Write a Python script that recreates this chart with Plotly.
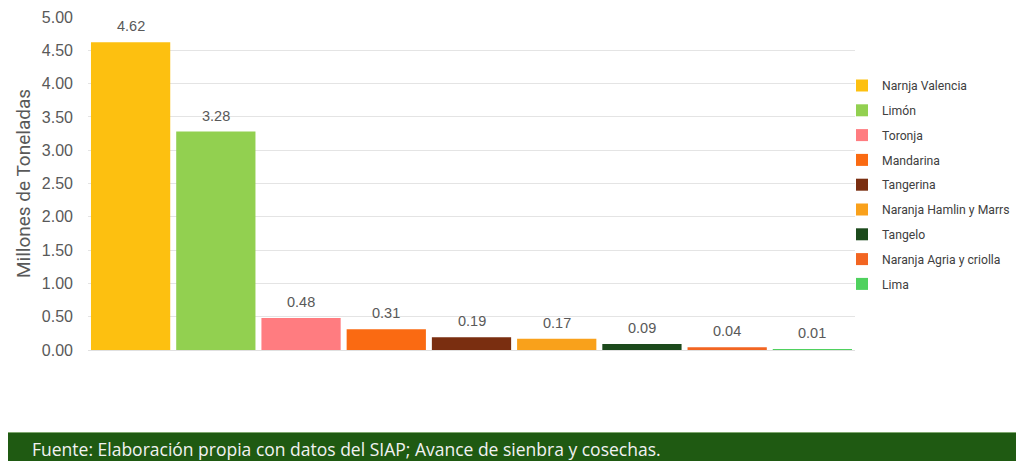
import plotly.graph_objects as go

categories = ["Narnja Valencia", "Limón", "Toronja", "Mandarina", "Tangerina",
              "Naranja Hamlin y Marrs", "Tangelo", "Naranja Agria y criolla", "Lima"]
values = [4.62, 3.28, 0.48, 0.31, 0.19, 0.17, 0.09, 0.04, 0.01]
colors = ["#FDC010", "#92D050", "#FF7C80", "#FA6A12", "#7A2E10",
          "#F9A11B", "#1C4A1C", "#F26522", "#4FD15E"]
y_ticks = [0, 0.5, 1, 1.5, 2, 2.5, 3, 3.5, 4, 4.5, 5]
source = "Fuente: Elaboración propia con datos del SIAP; Avance de sienbra y cosechas."

# page body has an 8px margin; work in screen pixels and convert
OFF = 8
W, H = 1024 - OFF, 461 - OFF
L, R, T, B = 88 - OFF, 1024 - 855, 17 - OFF, 461 - 350
pw, ph = W - L - R, H - T - B

def px(x):
    return (x - OFF - L) / pw

def py(y):
    return (H - B - (y - OFF)) / ph

fig = go.Figure()
for c, v, col in zip(categories, values, colors):
    fig.add_trace(go.Bar(
        x=[c], y=[v], name=c, marker=dict(color=col, line=dict(width=0)),
        legendgroup=c,
    ))
    fig.add_annotation(x=c, y=v, text=f"{v:.2f}", showarrow=False,
                       yanchor="bottom", yshift=6,
                       font=dict(family="Arial, Liberation Sans", size=14.5, color="#595959"))

fig.update_layout(
    width=W, height=H,
    margin=dict(l=L, r=R, t=T, b=B, autoexpand=False),
    paper_bgcolor="white", plot_bgcolor="white",
    barmode="overlay", bargap=0.07,
    showlegend=True,
    legend=dict(x=px(842), y=py(71), xanchor="left", yanchor="top",
                font=dict(family="Roboto, Arial", size=12.2, color="#404040"),
                tracegroupgap=5.8, itemwidth=30, bgcolor="rgba(0,0,0,0)"),
    font=dict(family="Roboto, Arial"),
    xaxis=dict(showticklabels=False, showgrid=False, zeroline=False,
               showline=True, linecolor="#e0e0e0", linewidth=1),
    yaxis=dict(range=[0, 5], tickvals=y_ticks, tickformat=".2f",
               showgrid=True, gridcolor="#e4e4e4", gridwidth=1,
               zeroline=False, showline=False,
               tickfont=dict(family="Arial, Liberation Sans", size=16, color="#595959"),
               ticklabeloverflow="allow",
               title=dict(text="Millones de Toneladas",
                          font=dict(family="Roboto, Arial", size=19, color="#595959"),
                          standoff=6),
               ticks="", ticklabelstandoff=14),
)

fig.add_shape(type="rect", xref="paper", yref="paper",
              x0=px(-20), x1=px(1040), y0=py(480), y1=py(432),
              fillcolor="#1F5A12", line=dict(width=0), layer="above")
fig.add_shape(type="line", xref="paper", yref="paper",
              x0=px(-20), x1=px(1040), y0=py(432.5), y1=py(432.5),
              line=dict(color="#7FA86F", width=1), layer="above")
fig.add_annotation(text=source, xref="paper", yref="paper",
                   x=px(30), y=py(449), xanchor="left", yanchor="middle",
                   showarrow=False,
                   font=dict(family="Open Sans, Lato", size=17.5, color="#F2F2F2"))

fig.write_html("out.html")
